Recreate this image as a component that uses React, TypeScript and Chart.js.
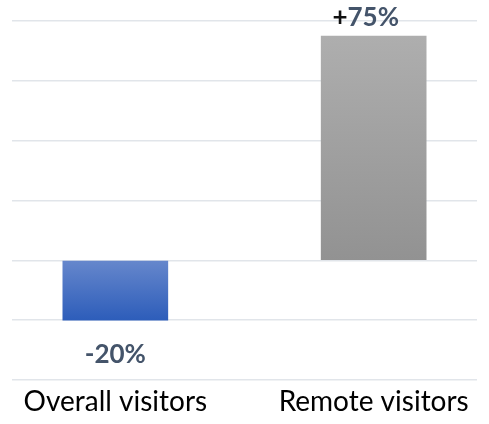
import React, { useEffect, useRef } from "react";
import { Chart, registerables } from "chart.js";

Chart.register(...registerables);

const categories = ["Overall visitors", "Remote visitors"];
const changes = [-20, 75];
const yTicks = [-40, -20, 0, 20, 40, 60, 80];
const gradientTop = ["#6687CC", "#AEAEAE"];
const gradientBottom = ["#2D5DBA", "#929292"];

const labelFont = "Lato, 'Open Sans', sans-serif";

const valueLabels = {
  id: "valueLabels",
  afterDatasetsDraw(chart: any) {
    const ctx = chart.ctx;
    const meta = chart.getDatasetMeta(0);
    ctx.save();
    ctx.font = `bold 26px ${labelFont}`;
    ctx.textBaseline = "middle";
    meta.data.forEach((bar: any, i: number) => {
      const v = changes[i];
      const sign = v >= 0 ? "+" : "-";
      const rest = `${Math.abs(v)}%`;
      const wSign = ctx.measureText(sign).width;
      const wRest = ctx.measureText(rest).width;
      const total = wSign + wRest;
      const x0 = bar.x - total / 2 - (v >= 0 ? 8 : 0);
      const y = v >= 0 ? bar.y - 18 : bar.y + 34;
      ctx.textAlign = "left";
      ctx.fillStyle = v >= 0 ? "#111111" : "#44546A";
      ctx.fillText(sign, x0, y);
      ctx.fillStyle = "#44546A";
      ctx.fillText(rest, x0 + wSign, y);
    });
    ctx.restore();
  },
};

export default function App() {
  const ref = useRef<HTMLCanvasElement | null>(null);
  useEffect(() => {
    if (!ref.current) return;
    const chart = new Chart(ref.current, {
      type: "bar",
      data: {
        datasets: [
          {
            data: changes.map((v, i) => ({ x: i, y: v })),
            barThickness: 105,
            backgroundColor: (c: any) => {
              const ch = c.chart;
              const ys = ch.scales?.y;
              if (!ys || c.dataIndex === undefined) return gradientTop[0];
              const v = changes[c.dataIndex];
              const p0 = ys.getPixelForValue(0);
              const p1 = ys.getPixelForValue(v);
              const top = Math.min(p0, p1);
              const bottom = Math.max(p0, p1);
              if (!isFinite(top) || !isFinite(bottom) || top === bottom)
                return gradientTop[c.dataIndex];
              const g = ch.ctx.createLinearGradient(0, top, 0, bottom);
              g.addColorStop(0, gradientTop[c.dataIndex]);
              g.addColorStop(1, gradientBottom[c.dataIndex]);
              return g;
            },
            borderWidth: 0,
          },
        ],
      },
      options: {
        animation: false,
        responsive: true,
        maintainAspectRatio: false,
        layout: { padding: { left: 12, right: 12, top: 21, bottom: 0 } },
        plugins: { legend: { display: false }, tooltip: { enabled: false } },
        scales: {
          x: {
            type: "linear",
            min: -0.4,
            max: 1.4,
            offset: false,
            grid: { display: false, drawTicks: false },
            border: { display: false },
            afterBuildTicks: (axis: any) => {
              axis.ticks = categories.map((_, i) => ({ value: i }));
            },
            ticks: {
              autoSkip: false,
              maxRotation: 0,
              padding: 8,
              color: "#000000",
              font: { family: labelFont, size: 28, lineHeight: 1.0 },
              callback: (v: any) => categories[Math.round(Number(v))] ?? "",
            },
          },
          y: {
            min: yTicks[0],
            max: yTicks[yTicks.length - 1],
            afterBuildTicks: (axis: any) => {
              axis.ticks = yTicks.map((v) => ({ value: v }));
            },
            ticks: { display: false },
            grid: { color: "#E1E5EA", lineWidth: 1.5, drawTicks: false },
            border: { display: false },
          },
        },
      },
      plugins: [valueLabels],
    });
    return () => chart.destroy();
  }, []);
  return (
    <div style={{ position: "fixed", left: 0, top: 0, width: 489, height: 424 }}>
      <canvas ref={ref} />
    </div>
  );
}
